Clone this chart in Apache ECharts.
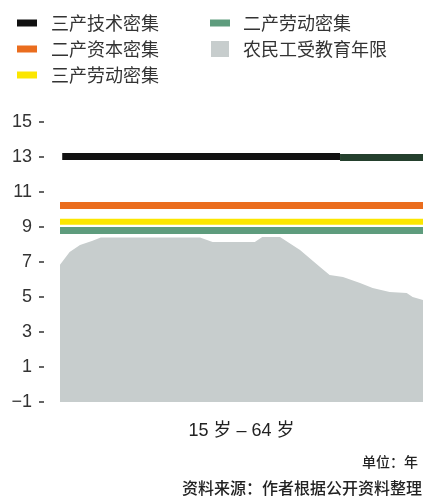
<!DOCTYPE html>
<html>
<head>
    <meta charset="utf-8">
    <title>农民工受教育年限</title>
    <script src="https://cdn.jsdelivr.net/npm/echarts@6/dist/echarts.min.js"></script>
    <style>
        html, body { margin: 0; padding: 0; background: #fff; }
        #main { width: 423px; height: 496px; }
    </style>
</head>
<body>
    <div id="main"></div>
    <script type="text/javascript">
        // 年龄范围 15-64 岁
        var ages = [15, 64];

        // 各行业平均受教育年限（水平线）
        var techService = 13.03;      // 三产技术密集
        var techServiceEnd = 12.97;   // 右段颜色偏深
        var techServiceSplit = 52.8;
        var capitalIndustry = 10.23;  // 二产资本密集
        var laborService = 9.3;       // 三产劳动密集
        var laborIndustry = 8.8;      // 二产劳动密集

        // 农民工受教育年限（按年龄）
        var workerAge = [15, 16.3, 17.7, 19.4, 20.5, 33.9, 35.6, 41.3, 42.3, 44.7, 47.4, 50.1, 51.4, 53.2, 55.5, 57.2, 59.5, 61.8, 62.6, 64];
        var workerYears = [6.85, 7.57, 7.97, 8.22, 8.4, 8.4, 8.14, 8.14, 8.43, 8.43, 7.69, 6.71, 6.26, 6.14, 5.8, 5.51, 5.29, 5.23, 5.0, 4.83];

        var yTicks = [-1, 15, 2];

        var font = '"Liberation Sans", "Noto Sans CJK SC", sans-serif';
        var cjk = '"Noto Sans CJK SC", sans-serif';

        var workerData = [];
        for (var i = 0; i < workerAge.length; i++) {
            workerData.push([workerAge[i], workerYears[i]]);
        }
        function flat(v, a, b) {
            return [[a, v], [b, v]];
        }

        var barIcon = 'path://M0,0H20V7H0Z';
        var myChart = echarts.init(document.getElementById('main'));

        var option = {
            animation: false,
            title: [{
                text: '单位：年',
                right: 0,
                top: 450,
                textStyle: { fontFamily: cjk, fontSize: 14, fontWeight: 500, color: '#222' }
            }, {
                text: '资料来源：作者根据公开资料整理',
                right: -4,
                top: 475,
                textStyle: { fontFamily: cjk, fontSize: 16, fontWeight: 500, color: '#222' }
            }],
            legend: [{
                orient: 'vertical',
                left: 12,
                top: 9,
                itemWidth: 20,
                itemHeight: 16,
                itemGap: 8,
                textStyle: { fontFamily: cjk, fontSize: 18, color: '#333', padding: [0, 0, 0, 9] },
                data: [
                    { name: '三产技术密集', icon: barIcon },
                    { name: '二产资本密集', icon: barIcon },
                    { name: '三产劳动密集', icon: barIcon }
                ]
            }, {
                orient: 'vertical',
                left: 205,
                top: 9,
                itemWidth: 20,
                itemHeight: 16,
                itemGap: 8,
                textStyle: { fontFamily: cjk, fontSize: 18, color: '#333', padding: [0, 0, 0, 8] },
                data: [
                    { name: '二产劳动密集', icon: barIcon },
                    { name: '农民工受教育年限', icon: 'path://M0,0H18V16H0Z' }
                ]
            }],
            grid: {
                left: 60,
                right: 0,
                top: 122,
                bottom: 94
            },
            xAxis: {
                type: 'value',
                min: ages[0],
                max: ages[1],
                name: '15 岁 – 64 岁',
                nameLocation: 'middle',
                nameGap: 20,
                nameTextStyle: { fontFamily: font, fontSize: 18, color: '#222' },
                axisLine: { show: false },
                axisTick: { show: false },
                axisLabel: { show: false },
                splitLine: { show: false }
            },
            yAxis: {
                type: 'value',
                min: yTicks[0],
                max: yTicks[1],
                interval: yTicks[2],
                offset: 16,
                axisLine: { show: false },
                axisTick: { show: true, length: 5, lineStyle: { color: '#333', width: 1.5 } },
                axisLabel: {
                    margin: 12,
                    fontFamily: font,
                    fontSize: 18,
                    color: '#333',
                    formatter: function (v) { return String(v).replace('-', '−'); }
                },
                splitLine: { show: false }
            },
            series: [{
                name: '农民工受教育年限',
                type: 'line',
                data: workerData,
                symbol: 'none',
                lineStyle: { width: 0 },
                itemStyle: { color: '#c7cdcd' },
                areaStyle: { color: '#c7cdcd', opacity: 1, origin: 'start' },
                z: 1
            }, {
                name: '二产劳动密集',
                type: 'line',
                data: flat(laborIndustry, ages[0], ages[1]),
                symbol: 'none',
                itemStyle: { color: '#5e9c7d' },
                lineStyle: { color: '#5e9c7d', width: 7 }
            }, {
                name: '三产劳动密集',
                type: 'line',
                data: flat(laborService, ages[0], ages[1]),
                symbol: 'none',
                itemStyle: { color: '#fbe600' },
                lineStyle: { color: '#fbe600', width: 6 }
            }, {
                name: '二产资本密集',
                type: 'line',
                data: flat(capitalIndustry, ages[0], ages[1]),
                symbol: 'none',
                itemStyle: { color: '#ea6d1e' },
                lineStyle: { color: '#ea6d1e', width: 7 }
            }, {
                name: '三产技术密集',
                type: 'line',
                data: flat(techService, ages[0] + 0.3, techServiceSplit),
                symbol: 'none',
                itemStyle: { color: '#111111' },
                lineStyle: { color: '#111111', width: 7 }
            }, {
                name: '三产技术密集(右段)',
                type: 'line',
                data: flat(techServiceEnd, techServiceSplit, ages[1]),
                symbol: 'none',
                itemStyle: { color: '#24402d' },
                lineStyle: { color: '#24402d', width: 7 }
            }]
        };

        myChart.setOption(option);
    </script>
</body>
</html>
